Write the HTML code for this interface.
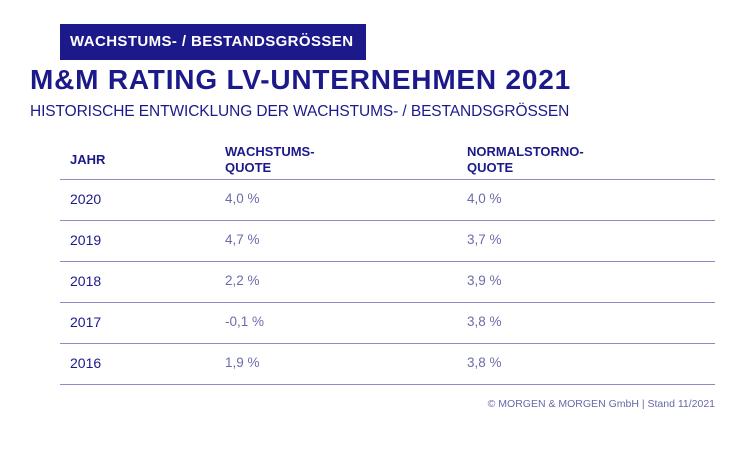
<!DOCTYPE html>
<html><head><meta charset="utf-8"><style>
body{margin:0;width:745px;height:466px;background:#fff;font-family:"Liberation Sans",sans-serif;position:relative;overflow:hidden}
.a{position:absolute;white-space:nowrap}
.banner{left:60px;top:24px;width:306px;height:36px;background:#1c1a8a;color:#fff;font-weight:bold;font-size:15px;line-height:36px;padding-left:10px;box-sizing:border-box;letter-spacing:0.4px}
.title{left:30px;top:64px;color:#1c1a8a;font-weight:bold;font-size:28px;letter-spacing:0.8px}
.sub{left:30px;top:103px;color:#1c1a8a;font-size:15.5px;letter-spacing:-0.1px}
.hd{color:#1c1a8a;font-weight:bold;font-size:13px;line-height:16px}
.line{left:60px;width:655px;height:1px;background:#8c8cc4}
.yr{left:70px;color:#1c1a8a;font-size:14px}
.v{color:#6c6caa;font-size:13.5px}
.foot{right:30px;top:398px;color:#6868a8;font-size:10.5px}
</style></head><body>
<div class="a banner">WACHSTUMS- / BESTANDSGRÖSSEN</div>
<div class="a title">M&amp;M RATING LV-UNTERNEHMEN 2021</div>
<div class="a sub">HISTORISCHE ENTWICKLUNG DER WACHSTUMS- / BESTANDSGRÖSSEN</div>
<div class="a hd" style="left:70px;top:152px">JAHR</div>
<div class="a hd" style="left:225px;top:144px">WACHSTUMS-<br>QUOTE</div>
<div class="a hd" style="left:467px;top:144px">NORMALSTORNO-<br>QUOTE</div>
<div id="rows"></div>
<div class="a foot">© MORGEN &amp; MORGEN GmbH | Stand 11/2021</div>
<script>
const years=["2020","2019","2018","2017","2016"];
const growth=["4,0 %","4,7 %","2,2 %","-0,1 %","1,9 %"];
const storno=["4,0 %","3,7 %","3,9 %","3,8 %","3,8 %"];
const c=document.getElementById('rows');
function add(cls,style,txt,name){const d=document.createElement('div');d.className='a '+cls;d.style.cssText=style;if(txt!==null)d.textContent=txt;


c.appendChild(d);}
add('line','top:179px',null,'header-divider');
years.forEach((y,i)=>{const t=191+i*41;
add('yr','top:'+t+'px',y,'year-'+y);
add('v','left:225px;top:'+t+'px',growth[i],'growth-'+y);
add('v','left:467px;top:'+t+'px',storno[i],'storno-'+y);
add('line','top:'+(220+i*41)+'px',null,'row-divider-'+y);});
</script>
</body></html>
